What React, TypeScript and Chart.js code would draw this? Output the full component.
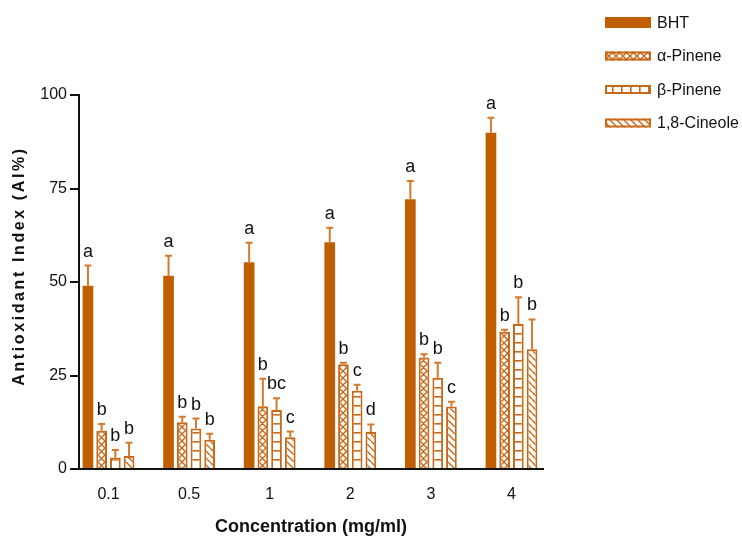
import React, { useEffect, useRef } from 'react';
import { Chart, registerables } from 'chart.js';

Chart.register(...registerables);

// ---------- data ----------
const categories = ['0.1', '0.5', '1', '2', '3', '4'];
const seriesNames = ['BHT', 'α-Pinene', 'β-Pinene', '1,8-Cineole'];

const bhtValues = [49.0, 51.7, 55.3, 60.6, 72.1, 89.9];
const bhtErrors = [5.4, 5.3, 5.2, 3.9, 4.9, 4.0];
const bhtLetters = ['a', 'a', 'a', 'a', 'a', 'a'];

const alphaValues = [10.2, 12.5, 16.8, 28.0, 29.8, 36.7];
const alphaErrors = [1.8, 1.5, 7.3, 0.4, 0.9, 0.5];
const alphaLetters = ['b', 'b', 'b', 'b', 'b', 'b'];

const betaValues = [3.1, 10.8, 15.8, 20.9, 24.4, 38.8];
const betaErrors = [2.0, 2.7, 3.1, 1.6, 4.0, 7.1];
const betaLetters = ['b', 'b', 'bc', 'c', 'b', 'b'];

const cineoleValues = [3.5, 7.8, 8.5, 9.9, 16.7, 32.0];
const cineoleErrors = [3.5, 1.6, 1.5, 2.0, 1.3, 8.0];
const cineoleLetters = ['b', 'b', 'c', 'd', 'c', 'b'];

const yTickValues = [0, 25, 50, 75, 100];
const yTitle = 'Antioxidant Index (AI%)';
const xTitle = 'Concentration (mg/ml)';

// ---------- styles ----------
const SOLID = '#C05F00';
const LINE = '#C8691A';
const ERR = '#D27A2E';
const TEXT = '#111111';
const FONT = '"Liberation Sans", Arial, sans-serif';

function makeTile(w: number, h: number, draw: (c: CanvasRenderingContext2D) => void) {
  const cv = document.createElement('canvas');
  cv.width = w;
  cv.height = h;
  const c = cv.getContext('2d')!;
  c.fillStyle = '#ffffff';
  c.fillRect(0, 0, w, h);
  c.strokeStyle = LINE;
  c.lineWidth = 1.4;
  draw(c);
  return cv;
}

function makePatterns(ctx: CanvasRenderingContext2D) {
  const s = 7;
  const cross = makeTile(s, s, (c) => {
    c.beginPath();
    for (const k of [-s, 0, s]) {
      c.moveTo(k, 0);
      c.lineTo(k + s, s);
      c.moveTo(k + s, 0);
      c.lineTo(k, s);
    }
    c.stroke();
  });
  const horiz = makeTile(10, 9, (c) => {
    c.fillStyle = LINE;
    c.fillRect(0, 0, 10, 1.6);
  });
  const grid = makeTile(9, 9, (c) => {
    c.fillStyle = LINE;
    c.fillRect(0, 0, 1.6, 9);
  });
  const diag = makeTile(s, s, (c) => {
    c.beginPath();
    for (const k of [-s, 0, s]) {
      c.moveTo(k, 0);
      c.lineTo(k + s, s);
    }
    c.stroke();
  });
  return {
    cross: ctx.createPattern(cross, 'repeat')!,
    horiz: ctx.createPattern(horiz, 'repeat')!,
    grid: ctx.createPattern(grid, 'repeat')!,
    diag: ctx.createPattern(diag, 'repeat')!,
  };
}

const errorLetterPlugin = {
  id: 'errorLetters',
  afterDatasetsDraw(chart: any) {
    const ctx = chart.ctx as CanvasRenderingContext2D;
    const yScale = chart.scales.y;
    chart.data.datasets.forEach((ds: any, di: number) => {
      const meta = chart.getDatasetMeta(di);
      meta.data.forEach((bar: any, i: number) => {
        const v = ds.data[i].y;
        const top = yScale.getPixelForValue(v + ds.errors[i]);
        ctx.save();
        ctx.strokeStyle = ERR;
        ctx.lineWidth = 2;
        ctx.beginPath();
        ctx.moveTo(bar.x, bar.y);
        ctx.lineTo(bar.x, top);
        ctx.moveTo(bar.x - 3.5, top);
        ctx.lineTo(bar.x + 3.5, top);
        ctx.stroke();
        ctx.fillStyle = TEXT;
        ctx.font = `18px ${FONT}`;
        ctx.textAlign = 'center';
        ctx.textBaseline = 'alphabetic';
        ctx.fillText(ds.letters[i], bar.x, top - 9);
        ctx.restore();
      });
    });
  },
};

const yTitlePlugin = {
  id: 'yTitle',
  afterDraw(chart: any) {
    const ctx = chart.ctx as CanvasRenderingContext2D;
    ctx.save();
    ctx.translate(20, 266);
    ctx.rotate(-Math.PI / 2);
    ctx.font = `bold 16px ${FONT}`;
    (ctx as any).letterSpacing = '2.6px';
    ctx.fillStyle = TEXT;
    ctx.textAlign = 'center';
    ctx.textBaseline = 'middle';
    ctx.fillText(yTitle, 0, 0);
    ctx.restore();
  },
};

const legendPlugin = {
  id: 'customLegend',
  afterDraw(chart: any) {
    const ctx = chart.ctx as CanvasRenderingContext2D;
    const x0 = 605;
    const w = 46;
    const firstY = 22.5;
    const step = 33.5;
    chart.data.datasets.forEach((ds: any, di: number) => {
      const cy = firstY + di * step;
      const h = di === 0 ? 11 : 9;
      ctx.save();
      ctx.fillStyle = ds.legendFill || ds.backgroundColor;
      ctx.fillRect(x0, cy - h / 2, w, h);
      if (ds.borderWidth) {
        ctx.strokeStyle = ds.borderColor;
        ctx.lineWidth = 2;
        ctx.strokeRect(x0 + 1, cy - h / 2 + 1, w - 2, h - 2);
      }
      ctx.fillStyle = TEXT;
      ctx.font = `16px ${FONT}`;
      ctx.textAlign = 'left';
      ctx.textBaseline = 'middle';
      ctx.fillText(ds.label, 657, cy + 1);
      ctx.restore();
    });
  },
};

export default function App() {
  const ref = useRef<HTMLCanvasElement | null>(null);

  useEffect(() => {
    document.body.style.margin = '0';
    const canvas = ref.current!;
    const ctx = canvas.getContext('2d')!;
    const p = makePatterns(ctx);
    const toXY = (arr: number[]) => arr.map((v, i) => ({ x: i, y: v }));

    const chart = new Chart(ctx, {
      type: 'bar',
      data: {
        datasets: [
          {
            label: seriesNames[0],
            data: toXY(bhtValues),
            errors: bhtErrors,
            letters: bhtLetters,
            backgroundColor: SOLID,
            borderWidth: 0,
          },
          {
            label: seriesNames[1],
            data: toXY(alphaValues),
            errors: alphaErrors,
            letters: alphaLetters,
            backgroundColor: p.cross,
            borderColor: LINE,
            borderWidth: 2,
          },
          {
            label: seriesNames[2],
            data: toXY(betaValues),
            errors: betaErrors,
            letters: betaLetters,
            backgroundColor: p.horiz,
            legendFill: p.grid,
            borderColor: LINE,
            borderWidth: 2,
          },
          {
            label: seriesNames[3],
            data: toXY(cineoleValues),
            errors: cineoleErrors,
            letters: cineoleLetters,
            backgroundColor: p.diag,
            borderColor: LINE,
            borderWidth: 2,
          },
        ] as any,
      },
      options: {
        responsive: false,
        animation: false,
        devicePixelRatio: 1,
        layout: { padding: { left: 0, top: 95, right: 199, bottom: 0 } },
        datasets: {
          bar: { categoryPercentage: 0.68, barPercentage: 0.78 },
        },
        plugins: {
          legend: { display: false },
          tooltip: { enabled: false },
        },
        scales: {
          x: {
            type: 'linear',
            offset: false,
            min: -0.366,
            max: 5.391,
            afterBuildTicks: (scale: any) => {
              scale.ticks = categories.map((_, i) => ({ value: i }));
            },
            afterFit: (scale: any) => {
              scale.height = 71;
            },
            ticks: {
              callback: (v: any) => categories[v as number] ?? '',
              color: TEXT,
              font: { family: FONT, size: 16 },
              padding: 16,
              maxRotation: 0,
              autoSkip: false,
            },
            grid: { display: true, drawOnChartArea: false, drawTicks: false, color: TEXT, lineWidth: 2 },
            border: { display: true, color: TEXT, width: 2 },
            title: {
              display: true,
              text: xTitle,
              color: TEXT,
              font: { family: FONT, size: 18, weight: 'bold' },
              padding: { top: 2, bottom: 2 },
            },
          },
          y: {
            min: 0,
            max: 100,
            afterBuildTicks: (scale: any) => {
              scale.ticks = yTickValues.map((v) => ({ value: v }));
            },
            afterFit: (scale: any) => {
              scale.width = 79;
            },
            ticks: {
              color: TEXT,
              font: { family: FONT, size: 16 },
              padding: 3,
            },
            grid: {
              display: true,
              drawOnChartArea: false,
              drawTicks: true,
              tickLength: 9,
              tickColor: TEXT,
              tickWidth: 2,
              color: TEXT,
              lineWidth: 2,
            },
            border: { display: true, color: TEXT, width: 2 },
            title: { display: false },
          },
        },
      } as any,
      plugins: [errorLetterPlugin, legendPlugin, yTitlePlugin],
    });

    return () => chart.destroy();
  }, []);

  return (
    <div style={{ width: 742, height: 540 }}>
      <canvas ref={ref} width={742} height={540} />
    </div>
  );
}
